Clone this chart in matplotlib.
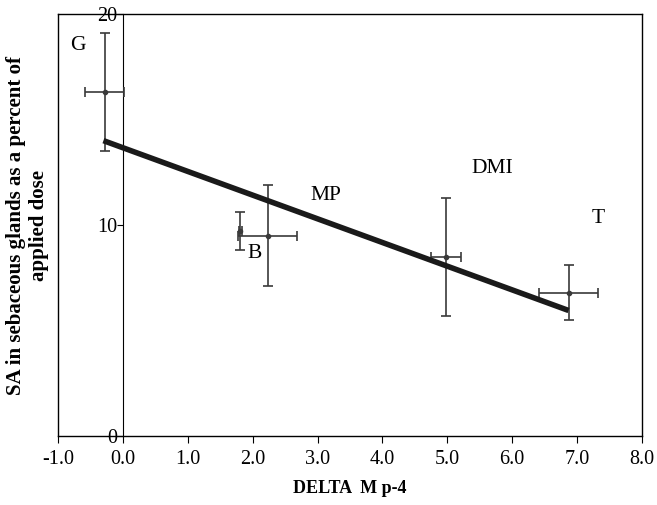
import matplotlib.pyplot as plt

plt.rcParams['font.family'] = ['Liberation Serif', 'DejaVu Serif']

# data
names = ['G', 'B', 'MP', 'DMI', 'T']
dm = [-0.28, 1.81, 2.23, 4.98, 6.87]
sa = [16.3, 9.7, 9.5, 8.5, 6.8]
dm_err = [0.30, 0.02, 0.45, 0.23, 0.46]
sa_err = [2.8, 0.9, 2.4, 2.8, 1.3]

# regression line ends
fit_x = [-0.30, 6.87]
fit_y = [14.0, 5.95]

# label positions
lab_x = [-0.69, 2.03, 3.13, 5.7, 7.32]
lab_y = [18.5, 8.67, 11.4, 12.7, 10.3]

fig = plt.figure(figsize=(6.57, 5.05), dpi=100)
ax = fig.add_axes([0.0883, 0.1366, 0.8887, 0.8356])

ax.errorbar(dm, sa, xerr=dm_err, yerr=sa_err, fmt='o', ms=3,
            color='#3a3a3a', ecolor='#3a3a3a', elinewidth=1.2,
            capsize=3.5, capthick=1.2, zorder=3)
ax.plot(fit_x, fit_y, color='#1a1a1a', lw=4, solid_capstyle='butt', zorder=4)

for n, x, y in zip(names, lab_x, lab_y):
    ax.text(x, y, n, fontsize=15.5, ha='center', va='center')

ax.set_xlim(-1.0, 8.0)
ax.set_ylim(0, 20)
ax.set_xticks([-1, 0, 1, 2, 3, 4, 5, 6, 7, 8])
ax.set_xticklabels(['%.1f' % v for v in [-1, 0, 1, 2, 3, 4, 5, 6, 7, 8]])
ax.set_yticks([0, 10, 20])

ax.spines['left'].set_position(('data', 0))
ax.spines['left'].set_linewidth(0.8)
ax.axvline(-1.0, color='black', lw=1.0, clip_on=False)
for s in ['top', 'right', 'bottom']:
    ax.spines[s].set_linewidth(1.0)

ax.tick_params(axis='x', direction='out', length=5, labelsize=14.5, pad=5)
ax.tick_params(axis='y', direction='out', length=4, labelsize=14.5, pad=0)

ax.set_xlabel('DELTA  M p-4', fontsize=13, fontweight='bold', labelpad=8)
ax.text(-1.47, 10, 'SA in sebaceous glands as a percent of\napplied dose',
        rotation=90, fontsize=15, fontweight='bold', ha='center', va='center',
        linespacing=1.25)

fig.savefig('out.png', dpi=100)
